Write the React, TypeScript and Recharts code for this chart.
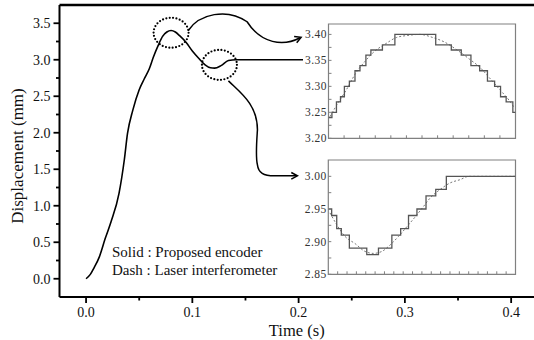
import React from 'react';
import {
  LineChart,
  Line,
  XAxis,
  YAxis,
  ReferenceDot,
  ReferenceLine,
  ReferenceArea,
  Label,
  Customized,
} from 'recharts';

// main response (s, mm)
const timeS = [
  0, 0.004, 0.0075, 0.0125, 0.018, 0.0235, 0.031, 0.036, 0.039, 0.044, 0.05, 0.0548, 0.0596, 0.0632,
  0.068, 0.072, 0.076, 0.08, 0.084, 0.088, 0.094, 0.1, 0.106, 0.112, 0.117, 0.121, 0.127, 0.134,
  0.141, 0.15, 0.4215,
];
const dispMm = [
  0, 0.06, 0.15, 0.3, 0.55, 0.78, 1.17, 1.63, 1.99, 2.31, 2.59, 2.74, 2.88, 3.03, 3.2, 3.32, 3.38,
  3.4, 3.38, 3.33, 3.24, 3.12, 3.02, 2.93, 2.89, 2.885, 2.92, 2.99, 3.0, 3.0, 3.0,
];

const mainXTicks = [0, 0.05, 0.1, 0.15, 0.2, 0.25, 0.3, 0.35, 0.4];
const mainYTicks = [0, 0.25, 0.5, 0.75, 1, 1.25, 1.5, 1.75, 2, 2.25, 2.5, 2.75, 3, 3.25, 3.5];

// inset around the peak
const peakStepX = [
  0, 0.22, 0.51, 0.77, 1.02, 1.34, 1.7, 2.02, 2.4, 2.72, 3.46, 4.26, 6.88, 7.88, 8.52, 9.14, 9.7,
  10.2, 10.66, 11.04, 11.4, 11.83, 12,
];
const peakStepY = [
  3.24, 3.25, 3.27, 3.28, 3.3, 3.31, 3.33, 3.34, 3.36, 3.37, 3.38, 3.4, 3.38, 3.37, 3.36, 3.34, 3.33,
  3.31, 3.3, 3.28, 3.27, 3.25, 3.25,
];
const peakDashX = [
  0.1, 0.61, 1.16, 1.7, 2.34, 2.98, 3.62, 4.36, 5.09, 5.86, 6.69, 7.46, 8.2, 9.06, 9.7, 10.34, 10.98,
  11.62, 11.94,
];
const peakDashY = [
  3.242, 3.268, 3.294, 3.323, 3.348, 3.368, 3.381, 3.394, 3.398, 3.4, 3.394, 3.385, 3.371, 3.352,
  3.337, 3.316, 3.294, 3.272, 3.258,
];
const peakYTicks = [3.2, 3.225, 3.25, 3.275, 3.3, 3.325, 3.35, 3.375, 3.4];
const peakXTicks = [1, 2, 3, 4, 5, 6, 7, 8, 9, 10, 11];

// inset around the settling
const settleStepX = [0, 0.36, 0.9, 1.39, 2.25, 4.11, 5.36, 6.79, 7.73, 8.57, 9.47, 10.44, 11.48, 12.61, 20];
const settleStepY = [2.95, 2.94, 2.92, 2.91, 2.89, 2.88, 2.89, 2.91, 2.92, 2.94, 2.95, 2.97, 2.98, 3.0, 3.0];
const settleDashX = [
  0.18, 0.9, 1.79, 2.86, 3.93, 4.82, 5.72, 6.61, 7.5, 8.4, 9.29, 10.18, 10.89, 11.96, 13.03, 14.1, 15, 20,
];
const settleDashY = [
  2.944, 2.926, 2.908, 2.897, 2.885, 2.882, 2.885, 2.895, 2.908, 2.923, 2.938, 2.954, 2.967, 2.98,
  2.99, 2.995, 3.0, 3.0,
];
const settleYTicks = [2.85, 2.875, 2.9, 2.925, 2.95, 2.975, 3.0];
const settleXTicks = [1, 2, 3, 4, 5, 6, 7, 8, 9, 10, 11, 12, 13, 14, 15, 16, 17, 18, 19];

const serif = 'Liberation Serif, Times New Roman, serif';
const frameGray = '#808080';

const zip = (xs: number[], ys: number[]) => xs.map((x, i) => ({ x, y: ys[i] }));
const isStep = (v: number, step: number) => Math.abs(v / step - Math.round(v / step)) < 1e-6;

const MainXTick = (p: any) => {
  const v = p.payload.value;
  const major = isStep(v, 0.1);
  return (
    <g>
      <line x1={p.x} x2={p.x} y1={p.y} y2={p.y + (major ? 6 : 3.5)} stroke="#000" strokeWidth={1.8} />
      {major && (
        <text x={p.x} y={p.y + 20} textAnchor="middle" style={{ fontFamily: serif, fontSize: 14 }} fill="#111">
          {v.toFixed(1)}
        </text>
      )}
    </g>
  );
};

const MainYTick = (p: any) => {
  const v = p.payload.value;
  const major = isStep(v, 0.5);
  return (
    <g>
      <line x1={p.x} x2={p.x - (major ? 6 : 3.5)} y1={p.y} y2={p.y} stroke="#000" strokeWidth={1.8} />
      {major && (
        <text x={p.x - 9} y={p.y} dy="0.35em" textAnchor="end" style={{ fontFamily: serif, fontSize: 14 }} fill="#111">
          {v.toFixed(1)}
        </text>
      )}
    </g>
  );
};

const InsetYTick = (p: any) => {
  const v = p.payload.value;
  return (
    <g>
      <line x1={p.x} x2={p.x + 3} y1={p.y} y2={p.y} stroke={frameGray} strokeWidth={1} />
      {isStep(v, 0.05) && (
        <text
          x={p.x - 1.5}
          y={p.y}
          dy="0.35em"
          textAnchor="end"
          style={{ fontFamily: serif, fontSize: 11.5, letterSpacing: 0.5 }}
          fill="#333"
        >
          {v.toFixed(2)}
        </text>
      )}
    </g>
  );
};

const InsetXTick = (p: any) => (
  <line x1={p.x} x2={p.x} y1={p.y} y2={p.y - 3} stroke={frameGray} strokeWidth={1} />
);

const arrowHead = (tx: number, ty: number, fx: number, fy: number) => {
  const a = Math.atan2(ty - fy, tx - fx);
  const len = 7;
  const w = 0.5;
  const p1 = [tx - len * Math.cos(a - w), ty - len * Math.sin(a - w)];
  const p2 = [tx - len * Math.cos(a + w), ty - len * Math.sin(a + w)];
  return `M${p1[0]},${p1[1]} L${tx},${ty} L${p2[0]},${p2[1]}`;
};

const dotted = {
  fill: 'none',
  stroke: '#000',
  strokeWidth: 2.2,
  strokeDasharray: '0 3.4',
  strokeLinecap: 'round' as const,
};

// dotted circle on the peak, arrow to the upper inset
const PeakMark = ({ cx, cy }: any) => (
  <g>
    <ellipse cx={cx} cy={cy} rx={17.5} ry={15} {...dotted} />
    <path
      d={`M${cx + 17},${cy - 2} C${cx + 28},${cy - 19} ${cx + 56},${cy - 25} ${cx + 76},${cy - 11} C${cx + 90},${cy + 11} ${cx + 112},${cy + 14} ${cx + 129},${cy + 5}`}
      fill="none"
      stroke="#000"
      strokeWidth={1.5}
    />
    <path d={arrowHead(cx + 130, cy + 4.5, cx + 112, cy + 12)} fill="none" stroke="#000" strokeWidth={1.5} />
  </g>
);

// dotted circle on the dip, arrow to the lower inset
const DipMark = ({ cx, cy }: any) => (
  <g>
    <ellipse cx={cx} cy={cy} rx={17.5} ry={15} {...dotted} />
    <path
      d={`M${cx + 9},${cy + 16} C${cx + 20},${cy + 27} ${cx + 38},${cy + 39} ${cx + 38},${cy + 65} C${cx + 37},${cy + 80} ${cx + 36},${cy + 92} ${cx + 38},${cy + 100} C${cx + 39},${cy + 108} ${cx + 44},${cy + 111} ${cx + 55},${cy + 111} L${cx + 77},${cy + 111}`}
      fill="none"
      stroke="#000"
      strokeWidth={1.5}
    />
    <path d={arrowHead(cx + 78, cy + 111, cx + 60, cy + 111)} fill="none" stroke="#000" strokeWidth={1.5} />
  </g>
);

const LegendNote = () => (
  <g style={{ fontFamily: serif, fontSize: 15 }} fill="#111">
    <text x={112} y={257}>Solid : Proposed encoder</text>
    <text x={112} y={275}>Dash : Laser interferometer</text>
  </g>
);

interface InsetProps {
  step: { x: number; y: number }[];
  dash: { x: number; y: number }[];
  xMax: number;
  yDomain: [number, number];
  yTicks: number[];
  xTicks: number[];
  left: number;
  top: number;
  height: number;
  yAxisWidth: number;
}

const Inset: React.FC<InsetProps> = ({ step, dash, xMax, yDomain, yTicks, xTicks, left, top, height, yAxisWidth }) => (
  <div style={{ position: 'absolute', left, top, width: 534 - left, height, background: '#fff' }}>
    <LineChart width={216} height={height} margin={{ top: 4, right: 3.5, bottom: height - 120.3, left: 0 }}>
      <XAxis
        type="number"
        dataKey="x"
        domain={[0, xMax]}
        ticks={xTicks}
        interval={0}
        height={2}
        axisLine={false}
        tickLine={false}
        tickSize={0}
        tickMargin={0}
        tick={InsetXTick}
        allowDataOverflow
      />
      <YAxis
        type="number"
        domain={yDomain}
        ticks={yTicks}
        interval={0}
        width={yAxisWidth}
        axisLine={false}
        tickLine={false}
        tickSize={0}
        tickMargin={0}
        tick={InsetYTick}
        allowDataOverflow
      />
      <ReferenceArea
        x1={0}
        x2={xMax}
        y1={yDomain[0]}
        y2={yDomain[1]}
        fill="none"
        fillOpacity={0}
        stroke={frameGray}
        strokeWidth={1.2}
        ifOverflow="visible"
      />
      <Line
        data={dash}
        dataKey="y"
        type="monotone"
        stroke="#777"
        strokeWidth={1}
        strokeDasharray="2 2"
        dot={false}
        isAnimationActive={false}
      />
      <Line
        data={step}
        dataKey="y"
        type="stepAfter"
        stroke="#555"
        strokeWidth={1.3}
        dot={false}
        isAnimationActive={false}
      />
    </LineChart>
  </div>
);

const mainData = zip(timeS, dispMm);

const App: React.FC = () => {
  return (
    <div
      style={{
        position: 'absolute',
        left: 0,
        top: 0,
        width: 534,
        height: 340,
        background: '#fff',
        overflow: 'hidden',
        fontFamily: serif,
      }}
    >
      <LineChart width={534} height={340} data={mainData} margin={{ top: 5, right: 0, bottom: 0, left: 0 }}>
        <XAxis
          type="number"
          dataKey="x"
          domain={[-0.025, 0.4215]}
          ticks={mainXTicks}
          interval={0}
          height={43}
          axisLine={{ stroke: '#000', strokeWidth: 2 }}
          tickLine={false}
          tickSize={0}
          tickMargin={0}
          tick={MainXTick}
          allowDataOverflow
        >
          <Label
            value="Time (s)"
            position="insideBottom"
            offset={4}
            style={{ fontFamily: serif, fontSize: 16.5, fill: '#111' }}
          />
        </XAxis>
        <YAxis
          type="number"
          domain={[-0.25, 3.75]}
          ticks={mainYTicks}
          interval={0}
          width={59.5}
          axisLine={{ stroke: '#000', strokeWidth: 2 }}
          tickLine={false}
          tickSize={0}
          tickMargin={0}
          tick={MainYTick}
          allowDataOverflow
        >
          <Label
            content={(props: any) => {
              const vb = props.viewBox || { y: 5, height: 292 };
              const cy = vb.y + vb.height / 2 + 5;
              return (
                <text
                  x={17}
                  y={cy}
                  transform={`rotate(-90 17 ${cy})`}
                  textAnchor="middle"
                  dominantBaseline="central"
                  style={{ fontFamily: serif, fontSize: 17 }}
                  fill="#111"
                >
                  Displacement (mm)
                </text>
              );
            }}
          />
        </YAxis>
        <ReferenceLine y={3.75} stroke="#000" strokeWidth={2.5} ifOverflow="visible" />
        <Line
          dataKey="y"
          type="monotone"
          stroke="#000"
          strokeWidth={1.6}
          dot={false}
          isAnimationActive={false}
        />
        <ReferenceDot x={0.08} y={3.37} r={0} ifOverflow="visible" shape={(p: any) => <PeakMark cx={p.cx} cy={p.cy} />} />
        <ReferenceDot x={0.1255} y={2.93} r={0} ifOverflow="visible" shape={(p: any) => <DipMark cx={p.cx} cy={p.cy} />} />
        <Customized component={LegendNote} />
      </LineChart>

      <Inset
        step={zip(peakStepX, peakStepY)}
        dash={zip(peakDashX, peakDashY)}
        xMax={12}
        yDomain={[3.2, 3.42]}
        yTicks={peakYTicks}
        xTicks={peakXTicks}
        left={303}
        top={20}
        height={127}
        yAxisWidth={25.5}
      />
      <Inset
        step={zip(settleStepX, settleStepY)}
        dash={zip(settleDashX, settleDashY)}
        xMax={20}
        yDomain={[2.85, 3.025]}
        yTicks={settleYTicks}
        xTicks={settleXTicks}
        left={303}
        top={156}
        height={126}
        yAxisWidth={25.3}
      />
    </div>
  );
};

export default App;
